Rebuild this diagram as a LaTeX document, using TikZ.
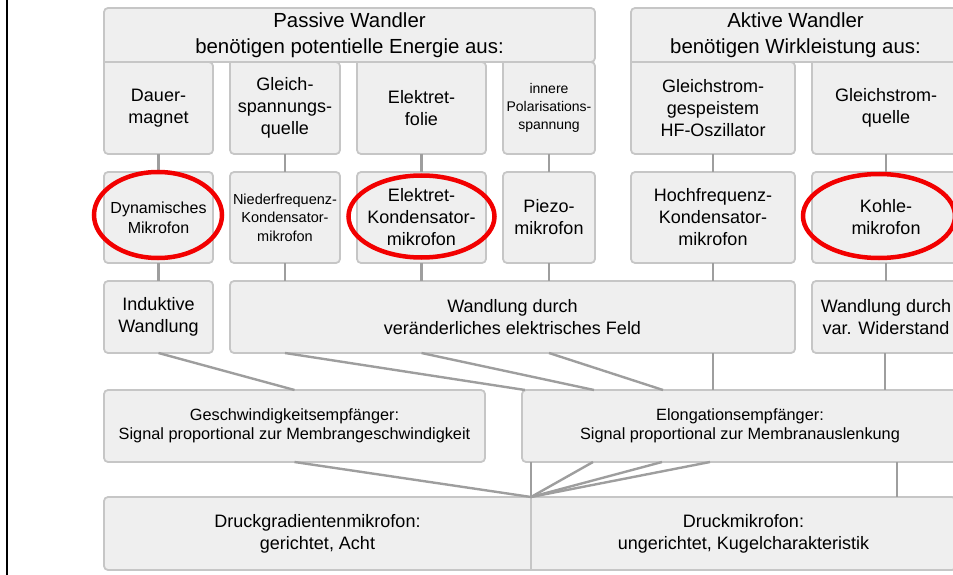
\documentclass[tikz,border=0pt]{standalone}
\usepackage{fontspec}
\setmainfont{Liberation Sans}
\usetikzlibrary{calc}
\pgfdeclarelayer{bg}
\pgfsetlayers{bg,main}
\definecolor{boxfill}{HTML}{EFEFEF}
\definecolor{boxline}{HTML}{C6C6C6}
\definecolor{conn}{HTML}{9E9E9E}
\definecolor{ringred}{HTML}{F20000}
\newcommand\fzH{\fontsize{20.4}{26}\selectfont}
\newcommand\fzM{\fontsize{18}{22}\selectfont}
\newcommand\fzD{\fontsize{16}{20}\selectfont}
\newcommand\fzE{\fontsize{16.3}{18.5}\selectfont}
\newcommand\fzS{\fontsize{14.5}{18.5}\selectfont}
\newcommand\fzT{\fontsize{14}{18}\selectfont}
\begin{document}
\begin{tikzpicture}[x=1pt,y=-1pt,
  fbox/.style={draw=boxline,fill=boxfill,line width=1.8pt,rounded corners=4pt,outer sep=0pt,inner sep=1pt,align=center,font=\fzM},
  tbox/.style={outer sep=0pt,inner sep=1pt,align=center,font=\fzM},
  panel/.style={draw=boxline,fill=boxfill,line width=1.8pt},
  link/.style={draw=conn,line width=2.4pt},
  ring/.style={draw=ringred,line width=4.5pt},
  frameline/.style={draw=black,line width=2.6pt}
]
\useasboundingbox (0,0) rectangle (953,575);

% headers
\node[tbox,font=\fzH,minimum width=491pt,minimum height=54pt] (passiv) at (349.5,35) {Passive Wandler\\benötigen potentielle Energie aus:};
\node[tbox,font=\fzH,minimum width=329pt,minimum height=54pt] (aktiv) at (795.5,35) {Aktive Wandler\\benötigen Wirkleistung aus:};

% columns
\node[tbox,minimum width=109pt,minimum height=92pt] (dauer) at (158.5,108) {Dauer-\\magnet};
\node[tbox,minimum width=110pt,minimum height=92pt] (gsq) at (285,108) {Gleich-\\spannungs-\\quelle};
\node[tbox,minimum width=129pt,minimum height=92pt] (folie) at (421.5,108) {Elektret-\\folie};
\node[tbox,font=\fzT,minimum width=92pt,minimum height=92pt] (pol) at (549,108) {innere\\Polarisations-\\spannung};
\node[tbox,minimum width=164pt,minimum height=92pt] (hfo) at (713,108) {Gleichstrom-\\gespeistem\\HF-Oszillator};
\node[tbox,minimum width=148pt,minimum height=92pt] (gsq2) at (886,108) {Gleichstrom-\\quelle};

% microphones
\node[fbox,font=\fzD,minimum width=109pt,minimum height=91pt] (dyn) at (158.5,217.5) {Dynamisches\\Mikrofon};
\node[fbox,font=\fzS,minimum width=110pt,minimum height=91pt] (nf) at (285,217.5) {Niederfrequenz-\\Kondensator-\\mikrofon};
\node[fbox,minimum width=129pt,minimum height=91pt] (elk) at (421.5,217.5) {Elektret-\\Kondensator-\\mikrofon};
\node[fbox,minimum width=92pt,minimum height=91pt] (piezo) at (549,217.5) {Piezo-\\mikrofon};
\node[fbox,minimum width=164pt,minimum height=91pt] (hf) at (713,217.5) {Hochfrequenz-\\Kondensator-\\mikrofon};
\node[fbox,minimum width=148pt,minimum height=91pt] (kohle) at (886,217.5) {Kohle-\\mikrofon};

% conversion
\node[fbox,minimum width=109pt,minimum height=72pt] (ind) at (158.5,317) {Induktive\\Wandlung};
\node[fbox,minimum width=565pt,minimum height=72pt] (wel) at (512.5,317) {Wandlung durch\\veränderliches elektrisches Feld};
\node[fbox,minimum width=148pt,minimum height=72pt] (wvw) at (886,317) {Wandlung durch\\var. Widerstand};

% receivers
\node[fbox,font=\fzE,minimum width=381pt,minimum height=72pt] (gesch) at (294.5,426) {Geschwindigkeitsempfänger:\\Signal proportional zur Membrangeschwindigkeit};
\node[fbox,font=\fzE,minimum width=436pt,minimum height=72pt] (elo) at (740,426) {Elongationsempfänger:\\Signal proportional zur Membranauslenkung};

% bottom row
\node[tbox,minimum width=427pt,minimum height=73pt] (dg) at (317.5,533.5) {Druckgradientenmikrofon:\\gerichtet, Acht};
\node[tbox,minimum width=425pt,minimum height=73pt] (dm) at (743.5,533.5) {Druckmikrofon:\\ungerichtet, Kugelcharakteristik};

\begin{pgfonlayer}{bg}
  \draw[panel] (passiv.south west) [rounded corners=4pt] -- (passiv.north west) -- (passiv.north east) -- (passiv.south east) [sharp corners] -- cycle;
  \draw[panel] (aktiv.south west) [rounded corners=4pt] -- (aktiv.north west) -- (aktiv.north east) -- (aktiv.south east) [sharp corners] -- cycle;
  \foreach \n in {dauer,gsq,folie,pol,hfo,gsq2}
    \draw[panel] (\n.north west) [rounded corners=4pt] -- (\n.south west) -- (\n.south east) -- (\n.north east) [sharp corners] -- cycle;
  \draw[panel,rounded corners=4pt] (dg.north west) rectangle (dm.south east);
  \draw[draw=boxline,line width=1.5pt] (dm.north west) -- (dm.south west);
\end{pgfonlayer}

% connectors: columns -> microphones
\draw[link] (dauer.south) -- (dyn.north);
\draw[link] (gsq.south) -- (nf.north);
\draw[link] (folie.south) -- (elk.north);
\draw[link] (pol.south) -- (piezo.north);
\draw[link] (hfo.south) -- (hf.north);
\draw[link] (gsq2.south) -- (kohle.north);

% microphones -> conversion
\draw[link] (dyn.south) -- (ind.north);
\draw[link] (nf.south) -- (nf.south |- wel.north);
\draw[link] (elk.south) -- (elk.south |- wel.north);
\draw[link] (piezo.south) -- (piezo.south |- wel.north);
\draw[link] (hf.south) -- (hf.south |- wel.north);
\draw[link] (kohle.south) -- (wvw.north);

% conversion -> receivers
\draw[link] (ind.south) -- (gesch.north);
\draw[link] (wel.south -| nf.south) -- ([xshift=3pt]elo.north west);
\draw[link] (wel.south -| elk.south) -- ([xshift=72pt]elo.north west);
\draw[link] (wel.south -| piezo.south) -- ([xshift=141pt]elo.north west);
\draw[link] (wel.south -| hf.south) -- (elo.north -| hf.south);
\draw[link] ([xshift=-1pt]wvw.south) -- ([xshift=-1pt]elo.north -| wvw.south);

% receivers -> bottom row
\draw[link] (gesch.south) -- (dm.north west);
\draw[link] (elo.south -| dm.north west) -- (dm.north west);
\draw[link] ([xshift=71pt]elo.south west) -- (dm.north west);
\draw[link] ([xshift=140pt]elo.south west) -- (dm.north west);
\draw[link] ([xshift=188pt]elo.south west) -- (dm.north west);
\draw[link] ([xshift=375pt]elo.south west) -- ([xshift=375pt]elo.south west |- dm.north);

% red markings
\draw[ring] (158,215) ellipse [x radius=64pt, y radius=43pt];
\draw[ring] (421.5,216.5) ellipse [x radius=73pt, y radius=41pt];
\draw[ring] (879,216) ellipse [x radius=76pt, y radius=42pt];

% left frame line
\draw[frameline] (7,0) -- (7,575);
\end{tikzpicture}
\end{document}
